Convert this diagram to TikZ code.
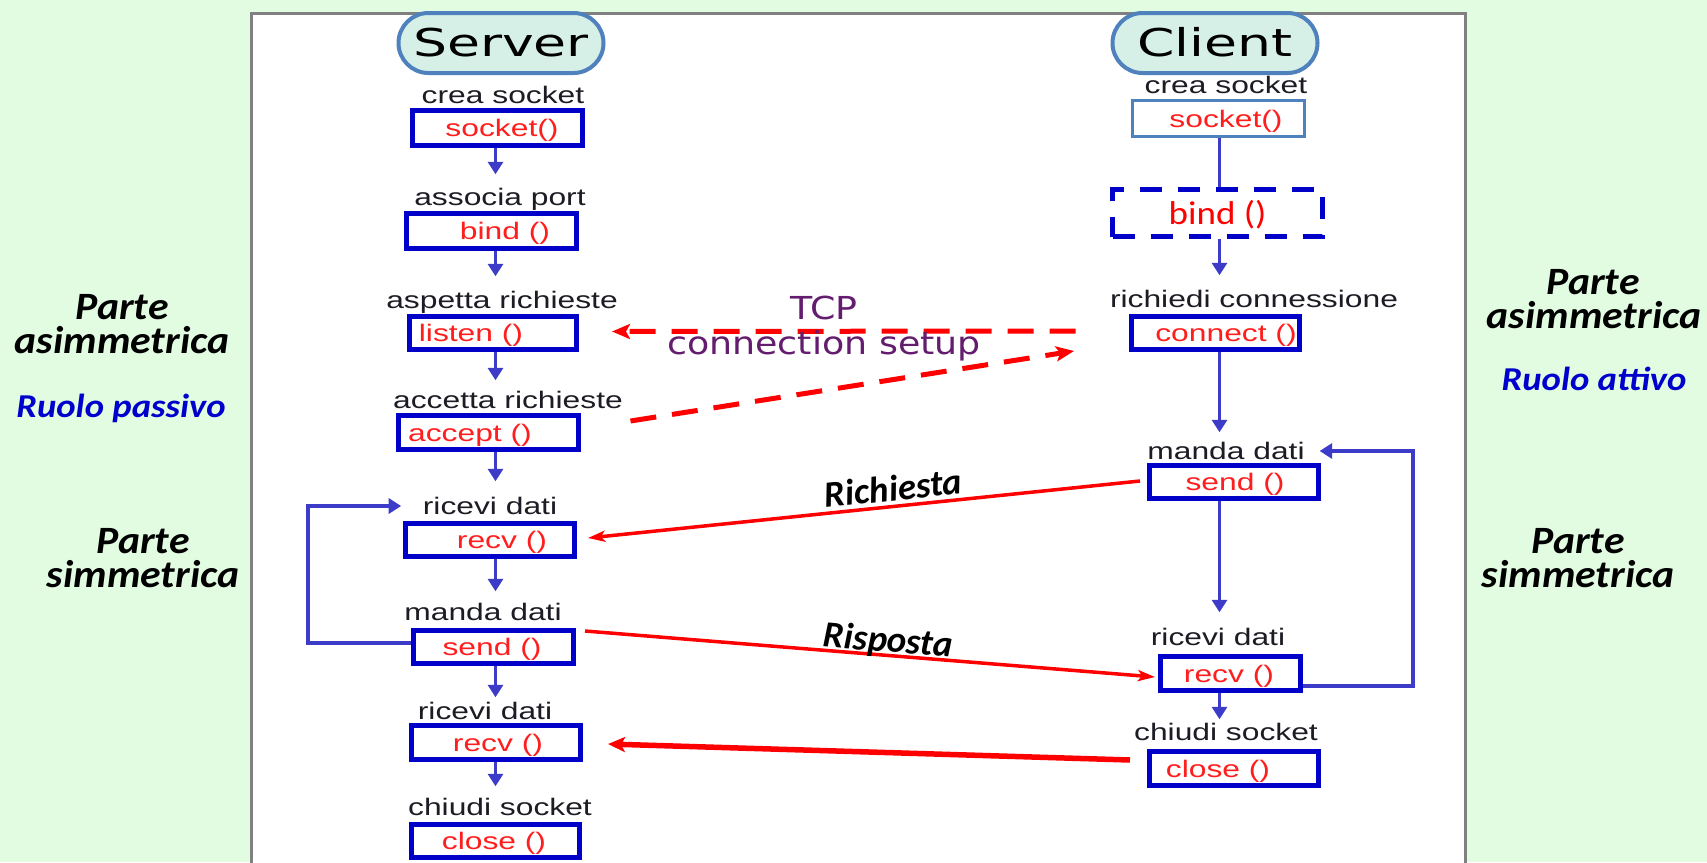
\documentclass[tikz,border=0pt]{standalone}
\usepackage{fontspec}
\usetikzlibrary{arrows.meta,calc}

% fonts
\newfontfamily\myStepFont[FakeStretch=1.33]{Liberation Sans}
\newfontfamily\myPillFont[FakeStretch=1.4]{DejaVu Sans}
\newfontfamily\myTcpFont[FakeStretch=1.15]{DejaVu Sans}
\newfontfamily\mySideFont[FakeStretch=1.08]{Carlito}
\newfontfamily\myRuoloFont[FakeStretch=1.1]{Carlito}
\newfontfamily\myMsgFont{Carlito}
\newfontfamily\myBindFont[FakeStretch=1.12]{Carlito}

% colours
\definecolor{bgGreen}{RGB}{226,252,226}
\definecolor{panelGray}{RGB}{128,128,128}
\definecolor{boxBlue}{RGB}{0,0,200}
\definecolor{flowBlue}{RGB}{60,60,200}
\definecolor{steel}{RGB}{79,129,189}
\definecolor{pillFill}{RGB}{214,240,232}
\definecolor{fnRed}{RGB}{255,30,30}
\definecolor{msgRed}{RGB}{255,0,0}
\definecolor{tcpPurple}{RGB}{100,28,110}
\definecolor{roleBlue}{RGB}{0,0,204}
\definecolor{lblInk}{RGB}{28,28,36}

\tikzset{
  pill/.style={draw=steel, line width=0.4mm, fill=pillFill, rounded corners=3mm,
    minimum width=20.5mm, minimum height=6mm, inner sep=0pt,
    font=\myPillFont\fontsize{10.9}{12}\selectfont, text=black,
    text height=7.9pt, text depth=0pt},
  steplbl/.style={font=\myStepFont\fontsize{6.8}{8}\selectfont, text=lblInk,
    inner sep=0pt, text height=4.9pt, text depth=0pt},
  fncall/.style={font=\myStepFont\fontsize{6.8}{8}\selectfont, text=fnRed,
    inner sep=0pt, text height=4.9pt, text depth=0pt},
  bindtxt/.style={font=\myBindFont\fontsize{9.4}{11}\selectfont, text=msgRed,
    inner sep=0pt, text height=6.2pt, text depth=0pt},
  callbox/.style 2 args={draw=boxBlue, line width=0.5mm, inner sep=0pt,
    minimum width=#1, minimum height=#2},
  flow/.style={draw=flowBlue, line width=0.35mm,
    -{Triangle[length=1.25mm, width=1.5mm]}},
  flowline/.style={draw=flowBlue, line width=0.35mm},
  msg/.style={draw=msgRed, line width=0.35mm,
    -{Stealth[length=1.7mm, width=1.1mm, inset=0.4mm]}},
  msgthick/.style={draw=msgRed, line width=0.55mm,
    -{Stealth[length=1.7mm, width=1.5mm, inset=0.4mm]}},
  setup/.style={draw=msgRed, line width=0.5mm, dash pattern=on 2.6mm off 1.6mm,
    -{Stealth[length=1.8mm, width=1.5mm, inset=0.4mm]}},
  msgtxt/.style={font=\myMsgFont\bfseries\itshape\fontsize{10.5}{12}\selectfont,
    text=black, inner sep=0pt},
  tcptxt/.style={font=\myTcpFont\fontsize{9}{10}\selectfont, text=tcpPurple,
    inner sep=0pt, text height=6.5pt, text depth=0pt},
  side/.style={font=\mySideFont\bfseries\itshape\fontsize{11}{12}\selectfont,
    text=black, inner sep=0pt, anchor=base},
  role/.style={font=\myRuoloFont\bfseries\itshape\fontsize{9.5}{11}\selectfont,
    text=roleBlue, inner sep=0pt, anchor=base}
}

\begin{document}
\begin{tikzpicture}[x=0.1mm, y=-0.1mm]
\useasboundingbox (0,0) rectangle (1707,862);
\clip (0,0) rectangle (1707,862);

% background and white panel
\fill[bgGreen] (0,0) rectangle (1707,862);
\draw[panelGray, line width=0.3mm, fill=white] (251.5,13.5) rectangle (1465.5,900);

% column axes for the vertical flow arrows
\coordinate (svAxis) at (495.5,0);
\coordinate (clAxis) at (1219.5,0);

% titles
\node[pill] (srv) at (501,43) {Server};
\node[pill] (cli) at (1215,43) {Client};

% server column
\node[steplbl] (svl1) at (503,95) {crea socket};
\node[callbox={17.0mm}{3.5mm}] (sv1) at (497.5,128) {};
\node[fncall] (sv1t) at (502,128) {socket()};

\node[steplbl] (svl2) at (500,197) {associa port};
\node[callbox={17.0mm}{3.5mm}] (sv2) at (491.5,231) {};
\node[fncall] (sv2t) at (505,231) {bind ()};

\node[steplbl] (svl3) at (502,300) {aspetta richieste};
\node[callbox={16.7mm}{3.3mm}] (sv3) at (493,333) {};
\node[fncall] (sv3t) at (471,333) {listen ()};

\node[steplbl] (svl4) at (508,400) {accetta richieste};
\node[callbox={18.0mm}{3.4mm}] (sv4) at (488,432.5) {};
\node[fncall] (sv4t) at (470,432.5) {accept ()};

\node[steplbl] (svl5) at (490,506) {ricevi dati};
\node[callbox={16.9mm}{3.3mm}] (sv5) at (490,540) {};
\node[fncall] (sv5t) at (502,540) {recv ()};

\node[steplbl] (svl6) at (483,612) {manda dati};
\node[callbox={16.0mm}{3.3mm}] (sv6) at (493.5,647) {};
\node[fncall] (sv6t) at (492,647) {send ()};

\node[steplbl] (svl7) at (485,711) {ricevi dati};
\node[callbox={16.9mm}{3.4mm}] (sv7) at (496,742.5) {};
\node[fncall] (sv7t) at (498,742.5) {recv ()};

\node[steplbl] (svl8) at (500,807) {chiudi socket};
\node[callbox={16.8mm}{3.3mm}] (sv8) at (495.5,841) {};
\node[fncall] (sv8t) at (494,841) {close ()};

% client column
\node[steplbl] (cll1) at (1226,85) {crea socket};
\node[callbox={17.2mm}{3.6mm}, draw=steel, line width=0.3mm] (cl1) at (1218.5,118.5) {};
\node[fncall] (cl1t) at (1226,118.5) {socket()};

\node[callbox={21.0mm}{4.7mm}, dash pattern=on 2.2mm off 1.6mm] (cl2) at (1217.5,213) {};
\node[bindtxt] (cl2t) at (1217.5,213.5) {bind ()};

\node[steplbl] (cll3) at (1254,299) {richiedi connessione};
\node[callbox={16.8mm}{3.3mm}] (cl3) at (1215.5,332.5) {};
\node[fncall] (cl3t) at (1226,332.5) {connect ()};

\node[steplbl] (cll4) at (1226,451) {manda dati};
\node[callbox={16.9mm}{3.3mm}] (cl4) at (1234,482) {};
\node[fncall] (cl4t) at (1235,482) {send ()};

\node[steplbl] (cll5) at (1218,637) {ricevi dati};
\node[callbox={14.0mm}{3.4mm}] (cl5) at (1230.5,673.5) {};
\node[fncall] (cl5t) at (1229,673.5) {recv ()};

\node[steplbl] (cll6) at (1226,732) {chiudi socket};
\node[callbox={16.9mm}{3.4mm}] (cl6) at (1234,768.5) {};
\node[fncall] (cl6t) at (1218,768.5) {close ()};

% server flow
\draw[flow, shorten >=1.34mm] (svAxis |- sv1.south) -- (svAxis |- svl2.north);
\draw[flow, shorten >=1.44mm] (svAxis |- sv2.south) -- (svAxis |- svl3.north);
\draw[flow, shorten >=1.04mm] (svAxis |- sv3.south) -- (svAxis |- svl4.north);
\draw[flow, shorten >=1.54mm] (svAxis |- sv4.south) -- (svAxis |- svl5.north);
\draw[flow, shorten >=1.14mm] (svAxis |- sv5.south) -- (svAxis |- svl6.north);
\draw[flow, shorten >=0.44mm] (svAxis |- sv6.south) -- (svAxis |- svl7.north);
\draw[flow, shorten >=1.14mm] (svAxis |- sv7.south) -- (svAxis |- svl8.north);
\draw[flow, shorten >=2.1mm] ($(sv6.west)+(0,0.4mm)$) -- ++(-10.3mm,0) |- (svl5.west);

% client flow
\draw[flowline] (clAxis |- cl1.south) -- (clAxis |- cl2.north);
\draw[flow, shorten >=1.44mm] (clAxis |- cl2.south) -- (clAxis |- cll3.north);
\draw[flow, shorten >=0.94mm] (clAxis |- cl3.south) -- (clAxis |- cll4.north);
\draw[flow, shorten >=1.54mm] (clAxis |- cl4.south) -- (clAxis |- cll5.north);
\draw[flow, shorten >=0.34mm] (clAxis |- cl5.south) -- (clAxis |- cll6.north);
\draw[flow, shorten >=1.43mm] ($(cl5.east)+(0,-1.25mm)$) -- ++(11mm,0) |- (cll4.east);

% TCP connection setup
\draw[setup] ($(cl3.west)+(-5.35mm,0.15mm)$) -- ($(sv3.east)+(3.3mm,0.15mm)$);
\draw[setup] ($(sv4.east)+(5.0mm,1.15mm)$) -- ($(cl3.west)+(-5.5mm,-1.85mm)$);
\node[tcptxt] (tcp1) at (824,308) {TCP};
\node[tcptxt] (tcp2) at (824,343) {connection setup};

% request / response / close
\draw[msg] ($(cl4.west)+(-0.7mm,0.1mm)$) -- ($(sv5.east)+(1.1mm,0.2mm)$);
\draw[msg] ($(sv6.east)+(0.9mm,1.6mm)$) -- ($(cl5.west)+(-0.3mm,-0.35mm)$);
\draw[msgthick] ($(cl6.west)+(-1.7mm,0.85mm)$) -- ($(sv7.east)+(2.5mm,-0.15mm)$);
\node[msgtxt, rotate=5.9] (req) at (893,488) {Richiesta};
\node[msgtxt, rotate=-4.6] (resp) at (888,642) {Risposta};

% side annotations
\node[side] (la1) at (122,319) {Parte};
\node[side] (la2) at (122,353) {asimmetrica};
\node[role] (lr) at (121,417) {Ruolo passivo};
\node[side] (ls1) at (143,553) {Parte};
\node[side] (ls2) at (143,587) {simmetrica};

\node[side] (ra1) at (1593,294) {Parte};
\node[side] (ra2) at (1594,328) {asimmetrica};
\node[role] (rr) at (1594,390) {Ruolo attivo};
\node[side] (rs1) at (1578,553) {Parte};
\node[side] (rs2) at (1578,587) {simmetrica};
\end{tikzpicture}
\end{document}
